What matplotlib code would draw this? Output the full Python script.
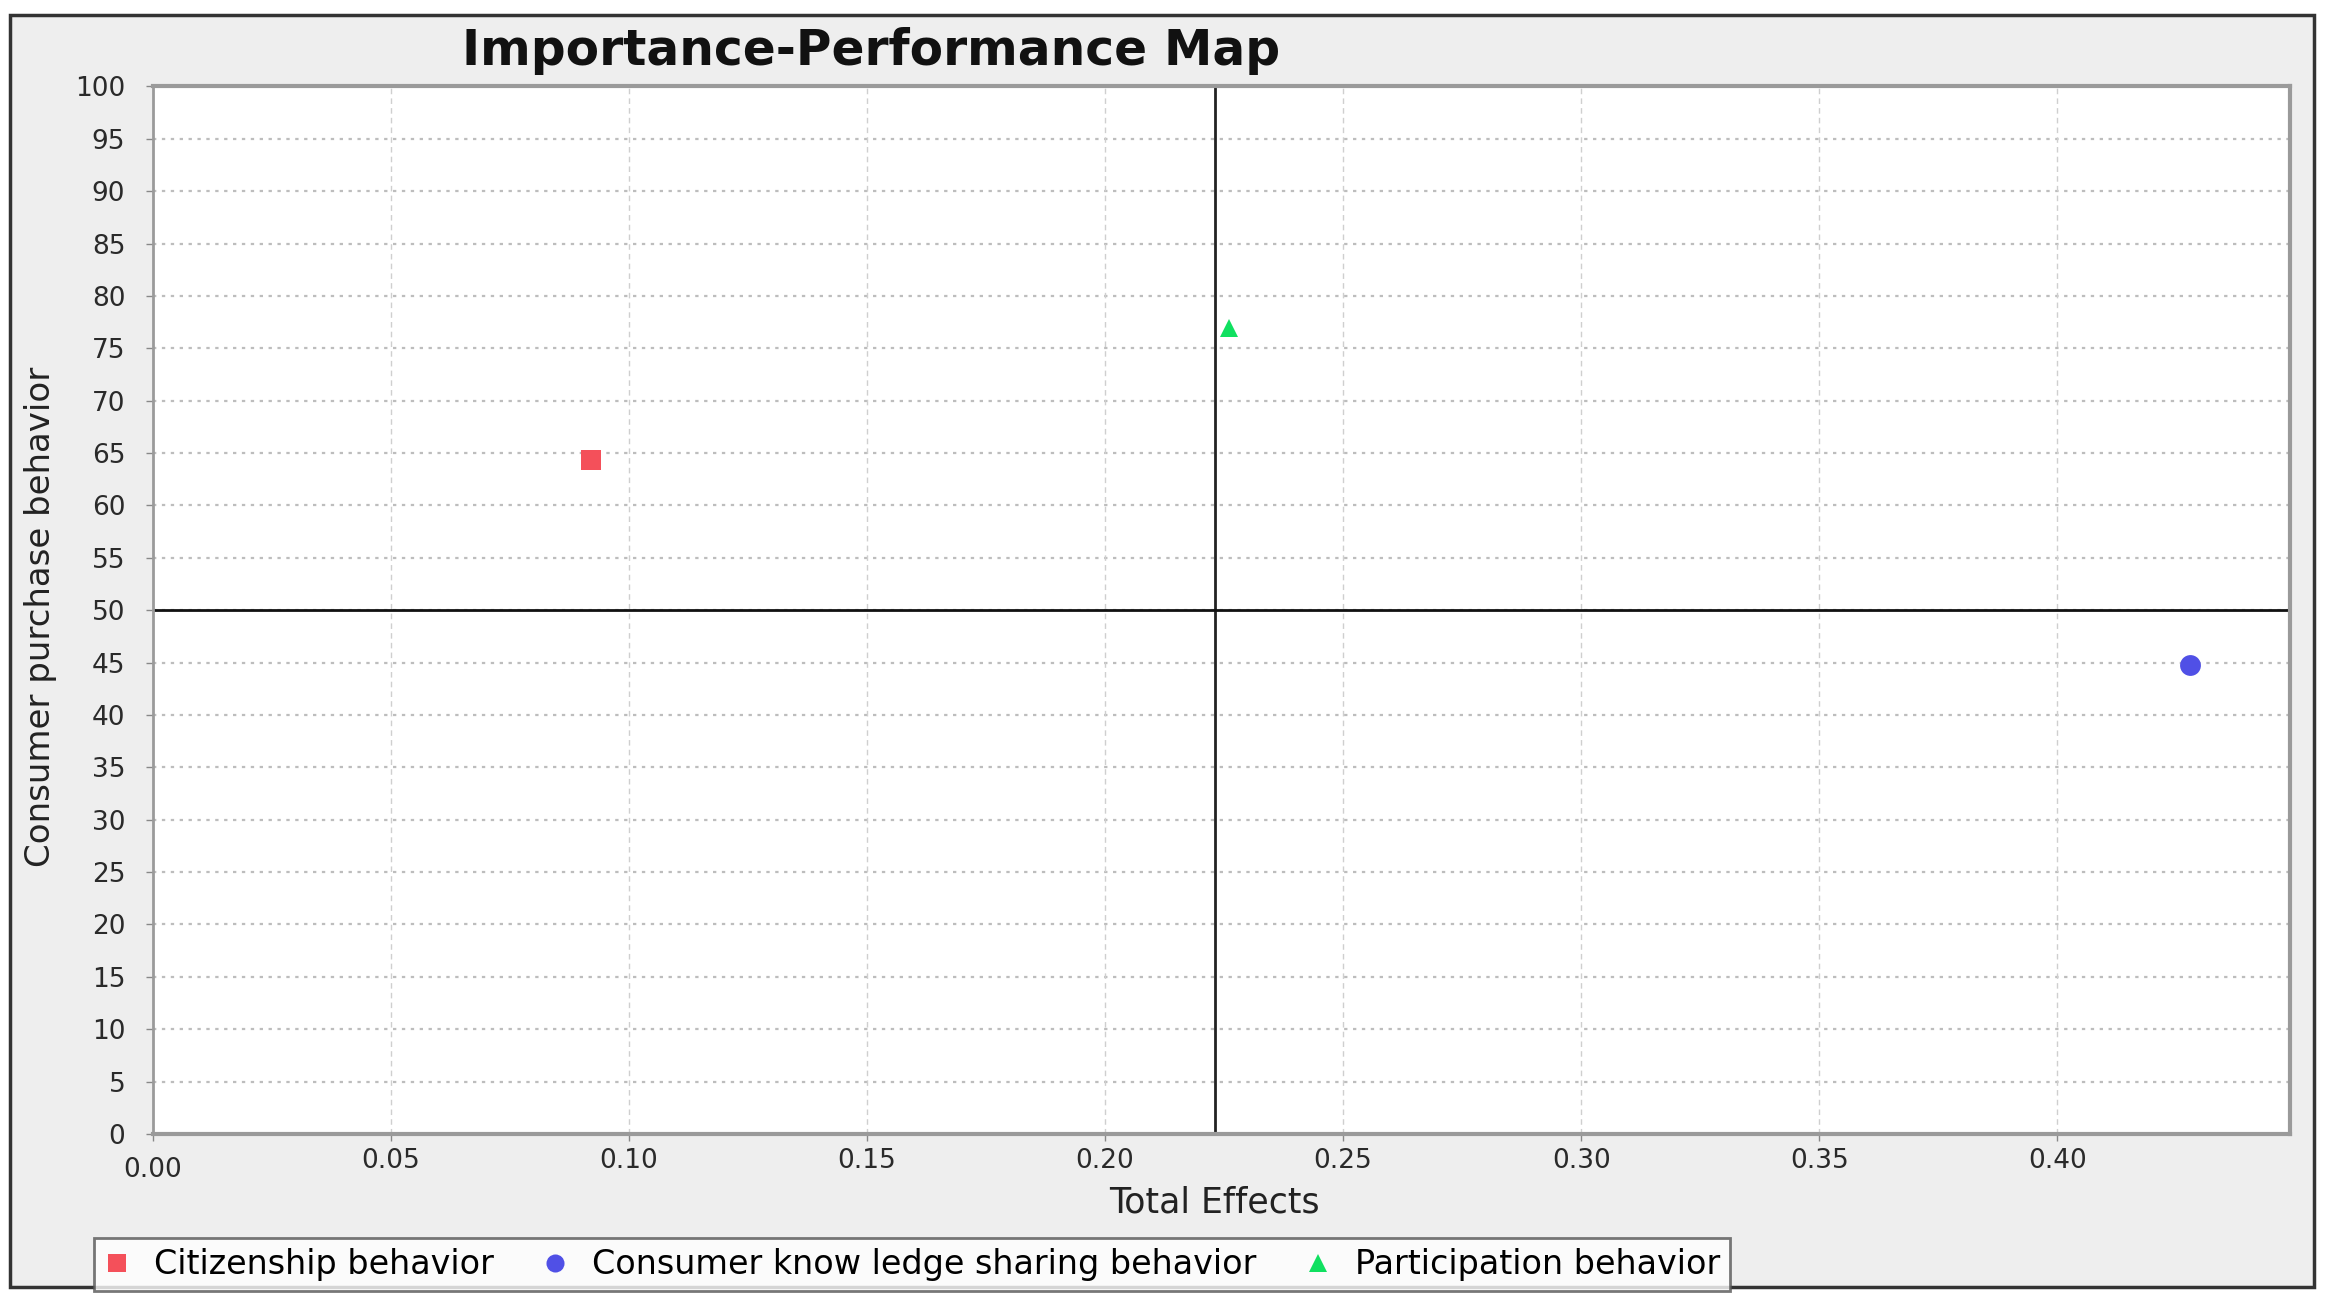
import matplotlib
matplotlib.use("Agg")
import matplotlib.pyplot as plt
from matplotlib.patches import Rectangle
from matplotlib.lines import Line2D
import matplotlib.transforms as mtransforms

# ---- data ----
constructs = ["Citizenship behavior", "Consumer know ledge sharing behavior", "Participation behavior"]
total_effects = [0.092, 0.428, 0.226]
performance = [64.3, 44.8, 76.9]
markers = ["s", "o", "^"]
colors = ["#f4505a", "#5050e6", "#10e060"]
mean_effect = 0.223
mean_perf = 50
x_ticks = [0.00, 0.05, 0.10, 0.15, 0.20, 0.25, 0.30, 0.35, 0.40]
y_ticks = list(range(0, 101, 5))

plt.rcParams["font.family"] = ["DejaVu Sans"]

fig = plt.figure(figsize=(23.30, 13.09), dpi=100)
fig.patch.set_facecolor("white")

# outer panel
panel = Rectangle((0.0043, 0.0168), 0.9887, 0.9717, transform=fig.transFigure,
                  facecolor="#eeeeee", edgecolor="#333333", linewidth=2.5, zorder=-5)
fig.patches.append(panel)

ax = fig.add_axes([0.0657, 0.1337, 0.9173, 0.8003])
ax.set_zorder(1)
ax.set_facecolor("white")
ax.set_xlim(0, 0.449)
ax.set_ylim(0, 100)
ax.set_xticks(x_ticks)
ax.set_xticklabels([f"{v:.2f}" for v in x_ticks])
ax.set_yticks(y_ticks)
ax.set_yticklabels([str(v) for v in y_ticks])

for y in y_ticks[1:-1]:
    ax.axhline(y, color="#bdbdbd", linestyle=(0, (1.5, 2.5)), linewidth=1.6, zorder=1)
for x in x_ticks[1:]:
    ax.axvline(x, color="#cfcfcf", linestyle=(0, (4, 3)), linewidth=1.0, zorder=1)

ax.axvline(mean_effect, color="#222222", linewidth=2.0, zorder=2)
ax.axhline(mean_perf, color="#111111", linewidth=2.0, zorder=2)

for c, x, y, m, col in zip(constructs, total_effects, performance, markers, colors):
    ms = 15 if m != "^" else 13
    ax.plot([x], [y], marker=m, color=col, markersize=ms, linestyle="none",
            markeredgewidth=0, zorder=3, label=c)

for side in ["left", "bottom", "top", "right"]:
    ax.spines[side].set_color("#9a9a9a")
ax.spines["left"].set_linewidth(2)
ax.spines["bottom"].set_linewidth(3)
ax.spines["top"].set_linewidth(3)
ax.spines["right"].set_linewidth(3)

ax.tick_params(axis="both", colors="#888888", length=5, width=1, labelcolor="#2a2a2a",
               labelsize=19)
ax.tick_params(axis="y", pad=15)
ax.tick_params(axis="x", pad=5)

# lower the 0.00 label slightly as in reference
lab0 = ax.get_xticklabels()[0]
lab0.set_transform(lab0.get_transform() + mtransforms.ScaledTranslation(0, -0.09, fig.dpi_scale_trans))

fig.text(0.374, 0.961, "Importance-Performance Map", ha="center", va="center",
         fontsize=35, fontweight="bold", color="#111111")
fig.text(ax.transData.transform((mean_effect, 0))[0] / fig.bbox.width, 0.0817, "Total Effects",
         ha="center", va="center", fontsize=25, color="#222222")
fig.text(0.0172, 0.529, "Consumer purchase behavior", rotation=90, ha="center", va="center",
         fontsize=24.5, color="#222222")

handles = [Line2D([0], [0], marker=m, color=col, linestyle="none", markersize=13,
                  markeredgewidth=0) for m, col in zip(markers, colors)]
leg = fig.legend(handles, constructs, loc="lower left", bbox_to_anchor=(0.0403, 0.0135),
                 ncol=3, frameon=True, fontsize=24, handlelength=0.8, handletextpad=0.7,
                 columnspacing=1.45, borderpad=0.3, borderaxespad=0, fancybox=False)
leg.get_frame().set_edgecolor("#555555")
leg.get_frame().set_linewidth(2)
leg.get_frame().set_facecolor("white")

fig.savefig("out.png", dpi=100)
